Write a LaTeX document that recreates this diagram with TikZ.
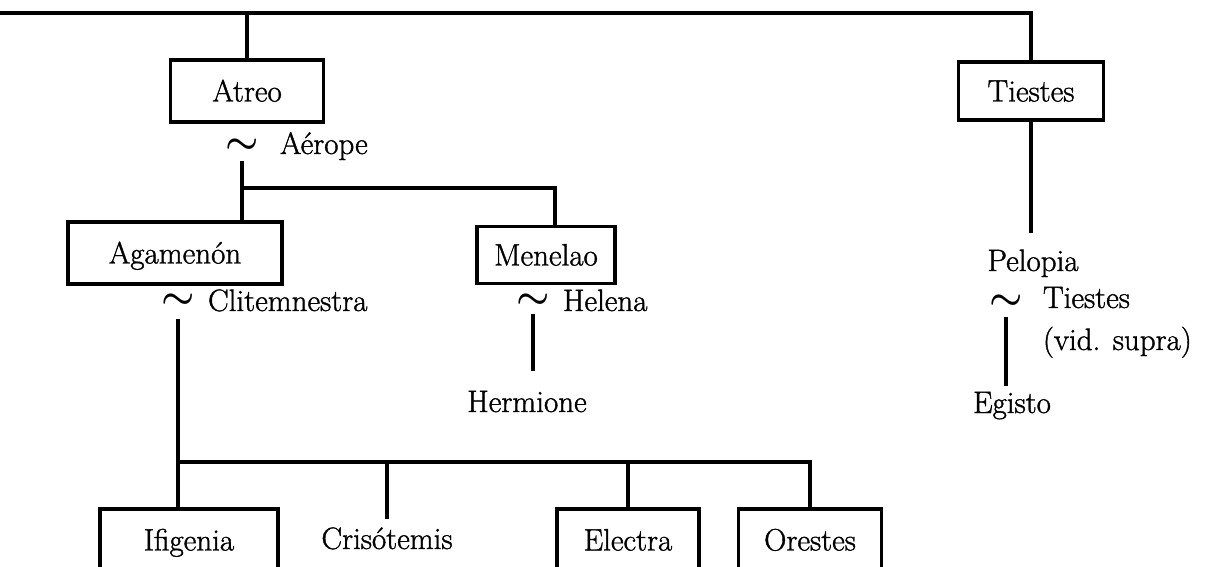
\documentclass[tikz,border=0pt]{standalone}
\usepackage{fontspec}
\setmainfont{Latin Modern Roman}[FakeBold=1.2]
\usetikzlibrary{calc}
\begin{document}
\begin{tikzpicture}[x=1pt,y=-1pt,
  every node/.style={font=\fontsize{31}{36}\selectfont, inner sep=0pt, outer sep=0pt},
  person/.style={draw, line width=3.8pt, text height=21pt, text depth=0pt, align=center},
  label/.style={text height=21pt, text depth=6pt},
  tie/.style={font=\fontsize{24.88}{30}\selectfont\boldmath},
  link/.style={line width=3.6pt},
]
\newcommand\marriage{\scalebox{1.5}{$\sim$}}
% page frame: white sheet, everything outside is cut off
\useasboundingbox (0,0) rectangle (1213,567);
\fill[white] (0,0) rectangle (1213,567);
\clip (0,0) rectangle (1213,567);

% generation of Atreo and Tiestes
\node[person, minimum width=153pt, minimum height=62pt] (Atreo) at (247,91) {Atreo};
\node[person, minimum width=145pt, minimum height=58pt] (Tiestes) at (1031,91) {Tiestes};
\coordinate (top) at (0,13);
\draw[link] (top) -| (Tiestes.north);
\draw[link] (Atreo.north |- top) -- (Atreo.north);

% Atreo ~ Aérope
\node[tie] (tA) at (242,146) {\marriage};
\node[label, anchor=base west] (Aerope) at (280,154) {Aérope};

% their sons
\node[person, minimum width=214pt, minimum height=62pt] (Agamenon) at (175,253) {Agamenón};
\node[person, minimum width=138pt, minimum height=57pt] (Menelao) at (546,255) {Menelao};
\coordinate (fork) at (241,188);
\draw[link, shorten <=8pt] (tA.south) -- (tA.south |- Agamenon.north);
\draw[link] (fork) -| ([xshift=9pt]Menelao.north);

% Agamenón ~ Clitemnestra
\node[tie] (tC) at (178,301) {\marriage};
\node[label, anchor=base west] (Clit) at (208,311) {Clitemnestra};

% Menelao ~ Helena, Hermione
\node[tie] (tH) at (533,301) {\marriage};
\node[label, anchor=base west] (Helena) at (563,311) {Helena};
\node[label, anchor=base] (Hermione) at (527,412) {Hermione};
\draw[link, shorten <=6pt, shorten >=20pt] (tH.south) -- (tH.south |- Hermione.north);

% Tiestes' line: Pelopia ~ Tiestes, Egisto
\node[label, anchor=base] (Pelopia) at (1033,271) {Pelopia};
\draw[link, shorten >=17pt] (Tiestes.south) -- (Tiestes.south |- Pelopia.north);
\node[tie] (tP) at (1006,302) {\marriage};
\node[label, anchor=base west] (Tiestes2) at (1043,308) {Tiestes};
\node[label, anchor=base west] (vid) at (1043,350) {(vid. supra)};
\node[label, anchor=base] (Egisto) at (1012,413) {Egisto};
\draw[link, shorten <=8pt, shorten >=6pt] (tP.south) -- (tP.south |- Egisto.north);

% children of Agamenón and Clitemnestra
\node[person, minimum width=178pt, minimum height=62pt] (Ifigenia) at (189,540) {Ifigenia};
\node[label, anchor=base] (Cris) at (387,549) {Crisótemis};
\node[person, minimum width=142pt, minimum height=62pt] (Electra) at (628,540) {Electra};
\node[person, minimum width=143pt, minimum height=62pt] (Orestes) at (810,540) {Orestes};
\coordinate (bar) at (179,462);
\draw[link, shorten <=11pt] (tC.south) -- (tC.south |- Ifigenia.north);
\draw[link] (bar) -| (Orestes.north);
\draw[link, shorten >=9pt] (Cris.north |- bar) -- (Cris.north);
\draw[link] (Electra.north |- bar) -- (Electra.north);
\end{tikzpicture}
\end{document}
